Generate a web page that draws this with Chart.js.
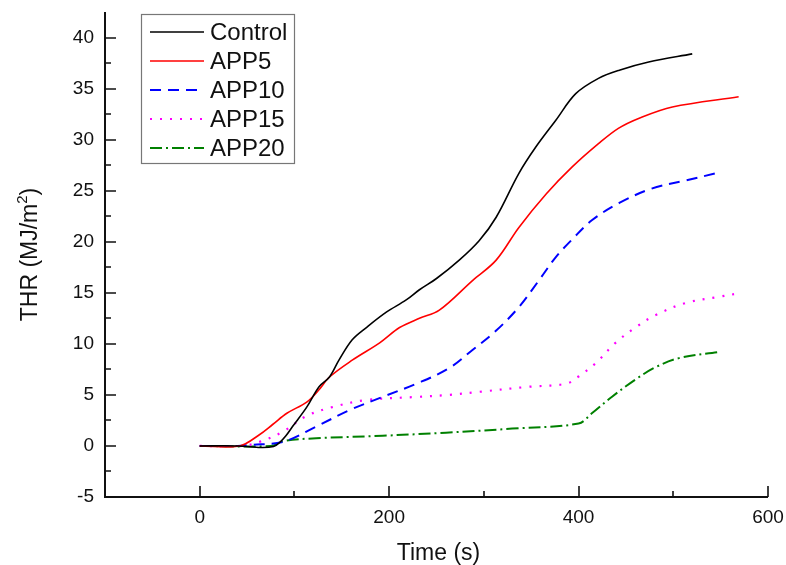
<!DOCTYPE html>
<html>
<head>
<meta charset="utf-8">
<script src="https://cdn.jsdelivr.net/npm/chart.js@4/dist/chart.umd.min.js"></script>
<style>
html,body{margin:0;padding:0;background:#fff;}
canvas{display:block;}
</style>
</head>
<body>
<canvas id="c" width="786" height="565"></canvas>
<script>
// ---- data ----
const seriesNames = ["Control", "APP5", "APP10", "APP15", "APP20"];

const controlT = [0, 40, 65, 78, 84, 91, 98, 113, 126, 137, 147, 161, 176, 197, 218, 232, 250, 274, 295, 313, 337, 355, 376, 397, 421, 443, 474, 520];
const controlV = [0, 0, -0.15, -0.05, 0.3, 1.0, 1.9, 3.8, 5.8, 6.75, 8.4, 10.4, 11.6, 13.1, 14.3, 15.3, 16.4, 18.2, 20.1, 22.4, 26.7, 29.3, 31.9, 34.5, 36.0, 36.8, 37.6, 38.4];

const app5T = [0, 42, 63, 77, 92, 113, 125, 137, 161, 190, 211, 232, 253, 288, 313, 337, 366, 393, 421, 442, 464, 499, 569];
const app5V = [0, 0, 1.1, 2.1, 3.2, 4.3, 5.4, 6.75, 8.4, 10.1, 11.6, 12.5, 13.3, 16.2, 18.2, 21.4, 24.7, 27.3, 29.6, 31.1, 32.1, 33.2, 34.2];

const app10T = [0, 40, 53, 88, 123, 158, 193, 229, 263, 288, 313, 337, 358, 376, 393, 414, 443, 477, 513, 545];
const app10V = [0, 0, 0.1, 0.4, 1.9, 3.5, 4.8, 6.1, 7.6, 9.4, 11.3, 13.6, 16.2, 18.5, 20.2, 22.1, 23.8, 25.2, 26.0, 26.7];

const app15T = [0, 45, 63, 88, 112, 140, 176, 229, 263, 295, 348, 387, 400, 418, 439, 460, 481, 513, 548, 572];
const app15V = [0, 0, 0.4, 1.4, 2.9, 3.8, 4.5, 4.8, 5.0, 5.3, 5.8, 6.1, 6.8, 8.1, 10.1, 11.6, 12.8, 14.0, 14.6, 15.0];

const app20T = [0, 75, 90, 123, 193, 260, 330, 400, 414, 435, 460, 481, 506, 548];
const app20V = [0, 0, 0.5, 0.75, 1.0, 1.3, 1.7, 2.2, 3.2, 4.8, 6.5, 7.7, 8.6, 9.2];

const xTickLabels = [0, 200, 400, 600];
const xMinorTicks = [100, 300, 500];
const yTickLabels = [-5, 0, 5, 10, 15, 20, 25, 30, 35, 40];
const yMinorTicks = [-2.5, 2.5, 7.5, 12.5, 17.5, 22.5, 27.5, 32.5, 37.5];

const xTitle = "Time (s)";
const yTitleMain = "THR (MJ/m";
const yTitleSup = "2";
const yTitleEnd = ")";

// ---- build ----
function pts(t, v) { return t.map((x, i) => ({x: x, y: v[i]})); }

const styles = [
  {color: "#000000", width: 1.6, dash: []},
  {color: "#ff0000", width: 1.6, dash: []},
  {color: "#0000ff", width: 2, dash: [11, 7]},
  {color: "#ff00ff", width: 2.2, dash: [2, 8]},
  {color: "#008000", width: 2, dash: [12, 4, 2, 4]}
];
const rawData = [[controlT, controlV], [app5T, app5V], [app10T, app10V], [app15T, app15V], [app20T, app20V]];

const datasets = rawData.map((d, i) => ({
  label: seriesNames[i],
  data: pts(d[0], d[1]),
  borderColor: styles[i].color,
  borderWidth: styles[i].width,
  borderDash: styles[i].dash,
  pointRadius: 0,
  fill: false,
  tension: 0.35
}));

const FONT = "'Liberation Sans', Arial, sans-serif";

const decor = {
  id: 'decor',
  afterDraw(chart) {
    const ctx = chart.ctx;
    const xs = chart.scales.x, ys = chart.scales.y;
    const a = chart.chartArea;
    ctx.save();
    ctx.strokeStyle = "#111";
    ctx.lineWidth = 2;
    ctx.setLineDash([]);
    ctx.beginPath();
    ctx.moveTo(a.left, a.top);
    ctx.lineTo(a.left, a.bottom);
    ctx.lineTo(a.right, a.bottom);
    ctx.stroke();
    ctx.lineWidth = 1.6;
    ctx.beginPath();
    xTickLabels.forEach(v => { const p = Math.round(xs.getPixelForValue(v)); ctx.moveTo(p, a.bottom); ctx.lineTo(p, a.bottom - 11); });
    xMinorTicks.forEach(v => { const p = Math.round(xs.getPixelForValue(v)); ctx.moveTo(p, a.bottom); ctx.lineTo(p, a.bottom - 6); });
    yTickLabels.forEach(v => { const p = Math.round(ys.getPixelForValue(v)); ctx.moveTo(a.left, p); ctx.lineTo(a.left + 11, p); });
    yMinorTicks.forEach(v => { const p = Math.round(ys.getPixelForValue(v)); ctx.moveTo(a.left, p); ctx.lineTo(a.left + 6, p); });
    ctx.stroke();

    // axis titles
    ctx.fillStyle = "#111";
    ctx.font = "23px " + FONT;
    ctx.textAlign = "center";
    ctx.textBaseline = "alphabetic";
    ctx.fillText(xTitle, (a.left + a.right) / 2 + 2, 560);

    ctx.save();
    ctx.translate(37, (a.top + a.bottom) / 2);
    ctx.rotate(-Math.PI / 2);
    ctx.font = "23px " + FONT;
    const w1 = ctx.measureText(yTitleMain).width;
    ctx.font = "15px " + FONT;
    const w2 = ctx.measureText(yTitleSup).width;
    ctx.font = "23px " + FONT;
    const w3 = ctx.measureText(yTitleEnd).width;
    const total = w1 + w2 + w3;
    let x0 = -total / 2;
    ctx.textAlign = "left";
    ctx.fillText(yTitleMain, x0, 0);
    ctx.font = "15px " + FONT;
    ctx.fillText(yTitleSup, x0 + w1, -10);
    ctx.font = "23px " + FONT;
    ctx.fillText(yTitleEnd, x0 + w1 + w2, 0);
    ctx.restore();

    // legend
    ctx.fillStyle = "#fff";
    ctx.fillRect(141.5, 14.5, 153, 149);
    ctx.strokeStyle = "#777";
    ctx.lineWidth = 1.2;
    ctx.strokeRect(141.5, 14.5, 153, 149);
    const rowY = [32, 61, 90, 119, 148];
    chart.data.datasets.forEach((ds, i) => {
      const y = rowY[i];
      ctx.strokeStyle = ds.borderColor;
      ctx.lineWidth = ds.borderWidth;
      ctx.setLineDash(ds.borderDash);
      ctx.beginPath();
      ctx.moveTo(150, y);
      ctx.lineTo(204, y);
      ctx.stroke();
      ctx.setLineDash([]);
      ctx.fillStyle = "#111";
      ctx.font = "24px " + FONT;
      ctx.textAlign = "left";
      ctx.textBaseline = "middle";
      ctx.fillText(ds.label, 210, y + 1);
    });
    ctx.restore();
  }
};

function zeroPad(s) { s.paddingLeft = 0; s.paddingRight = 0; s.paddingTop = 0; s.paddingBottom = 0; }

new Chart(document.getElementById('c'), {
  type: 'line',
  data: {datasets: datasets},
  options: {
    responsive: false,
    animation: false,
    devicePixelRatio: 1,
    layout: {padding: {left: 0, right: 18, top: 12, bottom: 0}},
    plugins: {legend: {display: false}, title: {display: false}, tooltip: {enabled: false}},
    scales: {
      x: {
        type: 'linear',
        min: -100, max: 600,
        grid: {display: false, drawTicks: false},
        border: {display: false},
        afterBuildTicks: s => { s.ticks = xTickLabels.map(v => ({value: v})); },
        afterFit: s => { s.height = 68; zeroPad(s); },
        ticks: {color: "#111", font: {family: FONT, size: 19}, padding: 9, maxRotation: 0, autoSkip: false}
      },
      y: {
        type: 'linear',
        min: -5, max: 42.5,
        grid: {display: false, drawTicks: false},
        border: {display: false},
        afterBuildTicks: s => { s.ticks = yTickLabels.map(v => ({value: v})); },
        afterFit: s => { s.width = 105; zeroPad(s); },
        ticks: {color: "#111", font: {family: FONT, size: 19}, padding: 11, autoSkip: false}
      }
    }
  },
  plugins: [decor]
});
</script>
</body>
</html>
